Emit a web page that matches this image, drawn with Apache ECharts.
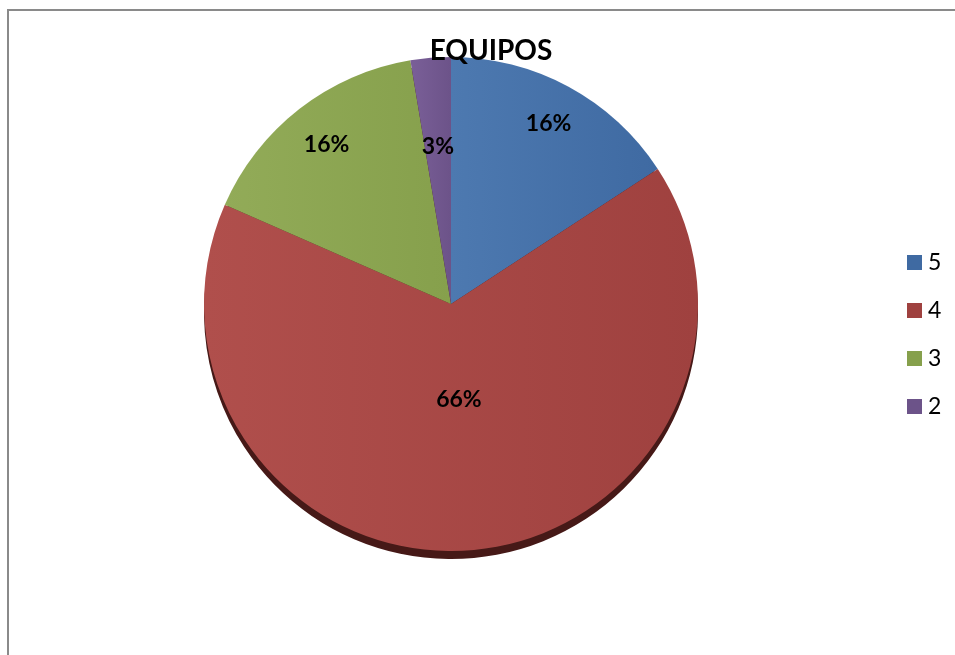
<!DOCTYPE html>
<html>
<head>
<meta charset="utf-8">
<script src="https://cdn.jsdelivr.net/npm/echarts@6/dist/echarts.min.js"></script>
<style>
  html, body { margin: 0; padding: 0; background: #fff; }
  #chart { position: absolute; left: 0; top: 0; width: 955px; height: 655px; }
  #frame { position: absolute; left: 7px; top: 9px; width: 948px; height: 646px;
           border-left: 2px solid #8a8a8a; border-top: 2px solid #8a8a8a; pointer-events: none; }
</style>
</head>
<body>
<div id="chart"></div>
<div id="frame"></div>
<script>
// Ratings and number of answers for each one
const categories = ['5', '4', '3', '2'];
const counts = [6, 25, 6, 1];
const chartTitle = 'EQUIPOS';

// Slice colours (light edge, dark edge) and how far out each label sits
const sliceColors = [
  ['#4d79b0', '#3f6aa2'],
  ['#b04f4c', '#9f413f'],
  ['#92ab58', '#86a04c'],
  ['#7a5f98', '#6c5389']
];
const labelRadiusFactor = [0.83, 0.39, 0.82, 0.64];

const center = [451, 304];
const radius = 247;

const total = counts.reduce((a, b) => a + b, 0);
const pct = v => Math.round(v / total * 100) + '%';

// Middle angle of each slice (clockwise from 12 o'clock)
const midAngles = [];
let acc = 0;
counts.forEach(v => {
  const span = v / total * 2 * Math.PI;
  midAngles.push(acc + span / 2);
  acc += span;
});

const mainData = categories.map((c, i) => ({
  name: c,
  value: counts[i],
  itemStyle: {
    color: new echarts.graphic.LinearGradient(0, 0, 1, 0, [
      { offset: 0, color: sliceColors[i][0] },
      { offset: 1, color: sliceColors[i][1] }
    ])
  }
}));
const shadowData = categories.map((c, i) => ({ name: c, value: counts[i] }));

const chart = echarts.init(document.getElementById('chart'), null, { renderer: 'canvas' });
chart.setOption({
  backgroundColor: '#ffffff',
  animation: false,
  title: {
    text: chartTitle,
    left: 486,
    top: 32,
    textAlign: 'center',
    textStyle: { fontFamily: 'Lato', fontWeight: 'bold', fontSize: 28, color: '#000' }
  },
  legend: {
    orient: 'vertical',
    left: 907,
    top: 251,
    padding: 0,
    icon: 'rect',
    itemWidth: 15,
    itemHeight: 15,
    itemGap: 25,
    selectedMode: false,
    data: categories.map((c, i) => ({ name: c, itemStyle: { color: sliceColors[i][1] } })),
    textStyle: { fontFamily: 'Lato', fontSize: 23, color: '#000', padding: [0, 0, 0, 1] }
  },
  series: [
    {
      type: 'pie',
      name: 'main',
      z: 3,
      center: center,
      radius: radius,
      startAngle: 90,
      clockwise: true,
      silent: true,
      data: mainData,
      label: {
        show: true,
        position: 'inside',
        formatter: p => pct(p.value),
        fontFamily: 'Lato',
        fontWeight: 'bold',
        fontSize: 23,
        color: '#000'
      },
      labelLine: { show: false },
      labelLayout: params => {
        const i = params.dataIndex;
        const r = radius * labelRadiusFactor[i];
        return {
          x: center[0] + r * Math.sin(midAngles[i]),
          y: center[1] - r * Math.cos(midAngles[i]),
          align: 'center',
          verticalAlign: 'middle'
        };
      }
    },
    {
      // dark rim beneath the pie
      type: 'pie',
      name: 'rim',
      z: 1,
      center: [center[0], center[1] + 8],
      radius: radius,
      startAngle: 90,
      clockwise: true,
      silent: true,
      data: shadowData,
      itemStyle: { color: '#461917' },
      label: { show: false },
      labelLine: { show: false }
    }
  ]
});
</script>
</body>
</html>
